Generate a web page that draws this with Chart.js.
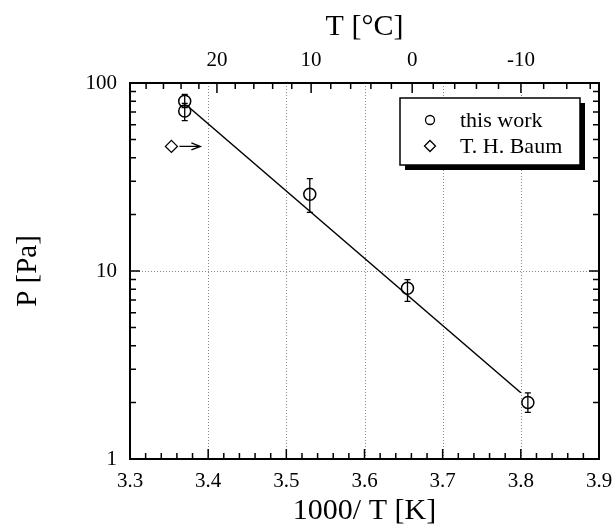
<!DOCTYPE html>
<html lang="en">
<head>
  <meta charset="UTF-8">
  <title>Vapor pressure vs 1000/T</title>
  <script src="https://cdn.jsdelivr.net/npm/chart.js"></script>
  <style>
    body { margin: 0; background: #fff; }
    .wrap { width: 615px; height: 527px; }
  </style>
</head>
<body>
  <div class="wrap"><canvas id="chart"></canvas></div>

  <script>
    // this work: 1000/T [1/K] and P [Pa], with error bar ends
    const workX    = [3.370, 3.370, 3.530, 3.655, 3.809];
    const workP    = [80, 71, 25.6, 8.1, 2.0];
    const workLow  = [74, 63, 20.5, 6.9, 1.77];
    const workHigh = [87, 78, 31, 9.0, 2.25];

    // T. H. Baum point (arrow points to higher 1000/T)
    const baumX = [3.353];
    const baumP = [46];
    const baumArrowTo = 3.39;

    // fitted line end points
    const fitX = [3.375, 3.80];
    const fitP = [74.5, 2.25];

    // axis ticks
    const xLabels = [3.3, 3.4, 3.5, 3.6, 3.7, 3.8, 3.9];
    const yLabels = [1, 10, 100];
    const topTempLabels = [20, 10, 0, -10];

    const serif = "'Liberation Serif', 'DejaVu Serif', serif";
    Chart.defaults.font.family = serif;
    Chart.defaults.color = "#000";

    const toPts = (xs, ys) => xs.map((x, i) => ({ x: x, y: ys[i] }));
    const invT = t => 1000 / (t + 273.15);

    // keep edge labels from shrinking the plot area
    const fixHorizontal = h => s => {
      s.height = h;
      s.paddingLeft = 8;
      s.paddingRight = 8;
    };

    // dotted grid, error bars, arrow, inward ticks, frame and legend
    const decorPlugin = {
      id: "decor",
      beforeDatasetsDraw(chart) {
        const { ctx, chartArea: a, scales } = chart;
        ctx.save();
        ctx.strokeStyle = "#888";
        ctx.lineWidth = 1;
        ctx.setLineDash([1, 2]);
        xLabels.slice(1, -1).forEach(v => {
          const px = Math.round(scales.x.getPixelForValue(v)) + 0.5;
          ctx.beginPath(); ctx.moveTo(px, a.top); ctx.lineTo(px, a.bottom); ctx.stroke();
        });
        yLabels.slice(1, -1).forEach(v => {
          const py = Math.round(scales.y.getPixelForValue(v)) + 0.5;
          ctx.beginPath(); ctx.moveTo(a.left, py); ctx.lineTo(a.right, py); ctx.stroke();
        });
        ctx.restore();
      },
      afterDatasetsDraw(chart) {
        const { ctx, chartArea: a, scales } = chart;
        const sx = scales.x, sy = scales.y;
        ctx.save();
        ctx.strokeStyle = "#000";
        ctx.fillStyle = "#000";

        // error bars
        ctx.lineWidth = 1.3;
        workX.forEach((x, i) => {
          const px = sx.getPixelForValue(x);
          const y1 = sy.getPixelForValue(workLow[i]);
          const y2 = sy.getPixelForValue(workHigh[i]);
          ctx.beginPath();
          ctx.moveTo(px, y1); ctx.lineTo(px, y2);
          ctx.moveTo(px - 3, y1); ctx.lineTo(px + 3, y1);
          ctx.moveTo(px - 3, y2); ctx.lineTo(px + 3, y2);
          ctx.stroke();
        });

        // arrow from Baum's point
        const bx = sx.getPixelForValue(baumX[0]) + 8;
        const by = sy.getPixelForValue(baumP[0]);
        const ex = sx.getPixelForValue(baumArrowTo);
        ctx.beginPath();
        ctx.moveTo(bx, by); ctx.lineTo(ex, by);
        ctx.moveTo(ex - 9, by - 3.5); ctx.lineTo(ex, by); ctx.lineTo(ex - 9, by + 3.5);
        ctx.stroke();

        // frame
        ctx.lineWidth = 2;
        ctx.strokeRect(a.left, a.top, a.right - a.left, a.bottom - a.top);

        // inward ticks
        ctx.lineWidth = 1.5;
        ctx.beginPath();
        for (let k = 0; k <= 30; k++) {
          const v = 3.3 + k * 0.02;
          const px = sx.getPixelForValue(v);
          const len = k % 5 === 0 ? 10 : 6;
          ctx.moveTo(px, a.bottom); ctx.lineTo(px, a.bottom - len);
        }
        for (let t = 28; t >= -16; t -= 2) {
          const px = sx.getPixelForValue(invT(t));
          const len = t % 10 === 0 ? 10 : 6;
          ctx.moveTo(px, a.top); ctx.lineTo(px, a.top + len);
        }
        [1, 10].forEach(d => {
          for (let m = 2; m <= 9; m++) {
            const py = sy.getPixelForValue(d * m);
            ctx.moveTo(a.left, py); ctx.lineTo(a.left + 6, py);
            ctx.moveTo(a.right, py); ctx.lineTo(a.right - 6, py);
          }
        });
        ctx.moveTo(a.left, sy.getPixelForValue(10)); ctx.lineTo(a.left + 10, sy.getPixelForValue(10));
        ctx.moveTo(a.right, sy.getPixelForValue(10)); ctx.lineTo(a.right - 10, sy.getPixelForValue(10));
        ctx.stroke();

        // legend box with drop shadow
        const lw = 180, lh = 67;
        const lx = a.right - 19 - lw, ly = a.top + 15;
        ctx.fillRect(lx + 5, ly + 5, lw, lh);
        ctx.fillStyle = "#fff";
        ctx.fillRect(lx, ly, lw, lh);
        ctx.lineWidth = 1.5;
        ctx.strokeRect(lx, ly, lw, lh);

        const items = chart.data.datasets.filter(d => d.label);
        ctx.fillStyle = "#000";
        ctx.font = "22px " + serif;
        ctx.textBaseline = "middle";
        items.forEach((d, i) => {
          const my = ly + 22 + i * 26;
          const mx = lx + 30;
          ctx.lineWidth = 1.3;
          ctx.beginPath();
          if (d.pointStyle === "rectRot") {
            ctx.moveTo(mx, my - 5.5); ctx.lineTo(mx + 5.5, my);
            ctx.lineTo(mx, my + 5.5); ctx.lineTo(mx - 5.5, my); ctx.closePath();
          } else {
            ctx.arc(mx, my, 4.5, 0, Math.PI * 2);
          }
          ctx.stroke();
          ctx.fillText(d.label, lx + 60, my + 1);
        });
        ctx.restore();
      }
    };

    new Chart(document.getElementById("chart"), {
      type: "scatter",
      data: {
        datasets: [
          {
            data: toPts(fitX, fitP),
            showLine: true,
            borderColor: "#000",
            borderWidth: 1.5,
            pointRadius: 0
          },
          {
            label: "this work",
            data: toPts(workX, workP),
            pointStyle: "circle",
            pointRadius: 6,
            borderColor: "#000",
            backgroundColor: "rgba(0,0,0,0)",
            borderWidth: 1.5
          },
          {
            label: "T. H. Baum",
            data: toPts(baumX, baumP),
            pointStyle: "rectRot",
            pointRadius: 6,
            borderColor: "#000",
            backgroundColor: "rgba(0,0,0,0)",
            borderWidth: 1.3
          }
        ]
      },
      options: {
        responsive: true,
        maintainAspectRatio: false,
        animation: false,
        layout: { padding: { left: 0, right: 16, top: 0, bottom: 0 } },
        plugins: { legend: { display: false }, tooltip: { enabled: false } },
        scales: {
          x: {
            type: "linear",
            position: "bottom",
            min: 3.3,
            max: 3.9,
            afterBuildTicks: s => { s.ticks = xLabels.map(v => ({ value: v })); },
            afterFit: fixHorizontal(68),
            grid: { display: false, drawTicks: false },
            border: { display: false },
            ticks: {
              autoSkip: false,
              maxRotation: 0,
              padding: 12,
              font: { size: 21, lineHeight: 1 },
              callback: v => v.toFixed(1)
            },
            title: {
              display: true,
              text: "1000/ T [K]",
              font: { size: 30, lineHeight: 1 },
              padding: { top: 0, bottom: 1 }
            }
          },
          x2: {
            type: "linear",
            position: "top",
            min: 3.3,
            max: 3.9,
            afterBuildTicks: s => { s.ticks = topTempLabels.map(t => ({ value: invT(t) })); },
            afterFit: fixHorizontal(83),
            grid: { display: false, drawTicks: false },
            border: { display: false },
            ticks: {
              autoSkip: false,
              maxRotation: 0,
              padding: 12,
              font: { size: 21, lineHeight: 1 },
              callback: v => String(Math.round(1000 / v - 273.15))
            },
            title: {
              display: true,
              text: "T [°C]",
              font: { size: 30, lineHeight: 1 },
              padding: { top: 12, bottom: 0 }
            }
          },
          y: {
            type: "logarithmic",
            position: "left",
            min: 1,
            max: 100,
            afterBuildTicks: s => { s.ticks = yLabels.map(v => ({ value: v })); },
            afterFit: s => { s.width = 130; },
            grid: { display: false, drawTicks: false },
            border: { display: false },
            ticks: {
              autoSkip: false,
              padding: 13,
              font: { size: 21, lineHeight: 1 },
              callback: v => String(v)
            },
            title: {
              display: true,
              text: "P [Pa]",
              font: { size: 29, lineHeight: 1 },
              padding: { top: 14, bottom: 0 }
            }
          }
        }
      },
      plugins: [decorPlugin]
    });
  </script>
</body>
</html>
